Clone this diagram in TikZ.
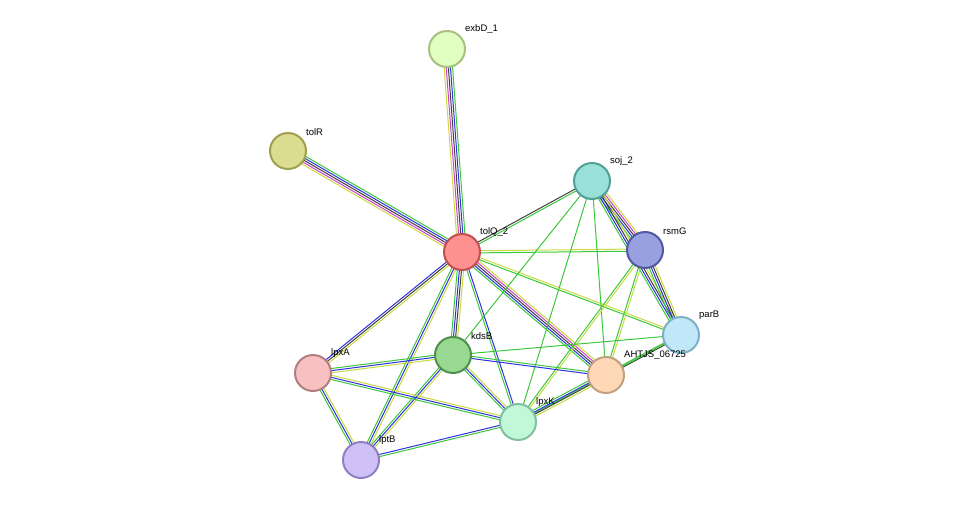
\documentclass[tikz,border=0pt]{standalone}
\usepackage{fontspec}
\setmainfont{Liberation Sans}
\usetikzlibrary{calc}
\definecolor{eg}{HTML}{3CC83C}
\definecolor{eb}{HTML}{3030E0}
\definecolor{ed}{HTML}{404040}
\definecolor{em}{HTML}{D040D0}
\definecolor{ey}{HTML}{C8DC40}
\newcommand{\myedge}[4]{% a b n colors
  \foreach \c [count=\i] in {#4}{
    \pgfmathsetmacro{\o}{(\i-1-(#3-1)/2)*2.1}
    \draw[\c,line width=1pt] ($(#1)!\o pt!90:(#2)$) -- ($(#2)!\o pt!-90:(#1)$);
  }}
\tikzset{prot/.style={circle,minimum size=36pt,inner sep=0pt,line width=2pt},
  lab/.style={font=\fontsize{9.5}{11}\selectfont,anchor=south west,inner sep=0pt}}
\begin{document}
\begin{tikzpicture}[x=1pt,y=-1pt]
\useasboundingbox[fill=white] (0,0) rectangle (976,506);
\coordinate (exbD) at (447,49);
\coordinate (tolR) at (288,151);
\coordinate (soj) at (592,181);
\coordinate (tolQ) at (462,252);
\coordinate (rsmG) at (645,250);
\coordinate (parB) at (681,335);
\coordinate (AHT) at (606,375);
\coordinate (kdsB) at (453,355);
\coordinate (lpxA) at (313,373);
\coordinate (lpxK) at (518,422);
\coordinate (lptB) at (361,460);
\myedge{tolQ}{exbD}{5}{eg,eb,ed,em,ey}
\myedge{tolQ}{tolR}{5}{eg,eb,ed,em,ey}
\myedge{tolQ}{soj}{2}{eg,ed}
\myedge{tolQ}{rsmG}{2}{eg,ey}
\myedge{tolQ}{parB}{2}{eg,ey}
\myedge{tolQ}{AHT}{5}{eg,eb,ed,em,ey}
\myedge{tolQ}{kdsB}{4}{eg,eb,ed,ey}
\myedge{tolQ}{lpxA}{3}{eb,ed,ey}
\myedge{tolQ}{lptB}{3}{eg,eb,ey}
\myedge{tolQ}{lpxK}{2}{eg,eb}
\myedge{soj}{rsmG}{5}{eg,eb,ed,em,ey}
\myedge{soj}{parB}{4}{eg,eb,ed,ey}
\myedge{soj}{AHT}{1}{eg}
\myedge{soj}{lpxK}{1}{eg}
\myedge{soj}{kdsB}{1}{eg}
\myedge{rsmG}{parB}{4}{eg,eb,ed,ey}
\myedge{rsmG}{AHT}{2}{eg,ey}
\myedge{rsmG}{lpxK}{2}{eg,ey}
\myedge{parB}{AHT}{2}{eg,ed}
\myedge{parB}{kdsB}{1}{eg}
\myedge{parB}{lpxK}{1}{eg}
\myedge{AHT}{lpxK}{4}{eg,eb,ed,ey}
\myedge{kdsB}{lpxA}{3}{eg,eb,ey}
\myedge{kdsB}{lptB}{3}{eg,eb,ey}
\myedge{kdsB}{lpxK}{3}{eg,eb,ey}
\myedge{kdsB}{AHT}{2}{eb,eg}
\myedge{lpxA}{lpxK}{3}{eg,eb,ey}
\myedge{lpxA}{lptB}{3}{eg,eb,ey}
\myedge{lptB}{lpxK}{2}{eg,eb}
\node[prot,fill={rgb,255:red,224;green,255;blue,192},draw={rgb,255:red,168;green,192;blue,128}] (n1) at (exbD) {};
\node[prot,fill={rgb,255:red,220;green,220;blue,144},draw={rgb,255:red,160;green,160;blue,80}] (n2) at (tolR) {};
\node[prot,fill={rgb,255:red,153;green,224;blue,216},draw={rgb,255:red,80;green,160;blue,152}] (n3) at (soj) {};
\node[prot,fill={rgb,255:red,255;green,144;blue,144},draw={rgb,255:red,192;green,80;blue,80}] (n4) at (tolQ) {};
\node[prot,fill={rgb,255:red,152;green,160;blue,224},draw={rgb,255:red,80;green,88;blue,160}] (n5) at (rsmG) {};
\node[prot,fill={rgb,255:red,192;green,232;blue,248},draw={rgb,255:red,128;green,176;blue,200}] (n6) at (parB) {};
\node[prot,fill={rgb,255:red,255;green,216;blue,184},draw={rgb,255:red,192;green,160;blue,128}] (n7) at (AHT) {};
\node[prot,fill={rgb,255:red,152;green,216;blue,144},draw={rgb,255:red,80;green,144;blue,80}] (n8) at (kdsB) {};
\node[prot,fill={rgb,255:red,248;green,192;blue,192},draw={rgb,255:red,176;green,128;blue,128}] (n9) at (lpxA) {};
\node[prot,fill={rgb,255:red,192;green,248;blue,216},draw={rgb,255:red,128;green,192;blue,160}] (n10) at (lpxK) {};
\node[prot,fill={rgb,255:red,208;green,192;blue,248},draw={rgb,255:red,144;green,128;blue,192}] (n11) at (lptB) {};
\node[lab] at (465,34) {exbD\_1};
\node[lab] at (306,136) {tolR};
\node[lab] at (610,166) {soj\_2};
\node[lab] at (480,237) {tolQ\_2};
\node[lab] at (663,235) {rsmG};
\node[lab] at (699,320) {parB};
\node[lab] at (624,360) {AHTJS\_06725};
\node[lab] at (471,340) {kdsB};
\node[lab] at (331,358) {lpxA};
\node[lab] at (536,407) {lpxK};
\node[lab] at (379,445) {lptB};
\end{tikzpicture}
\end{document}
